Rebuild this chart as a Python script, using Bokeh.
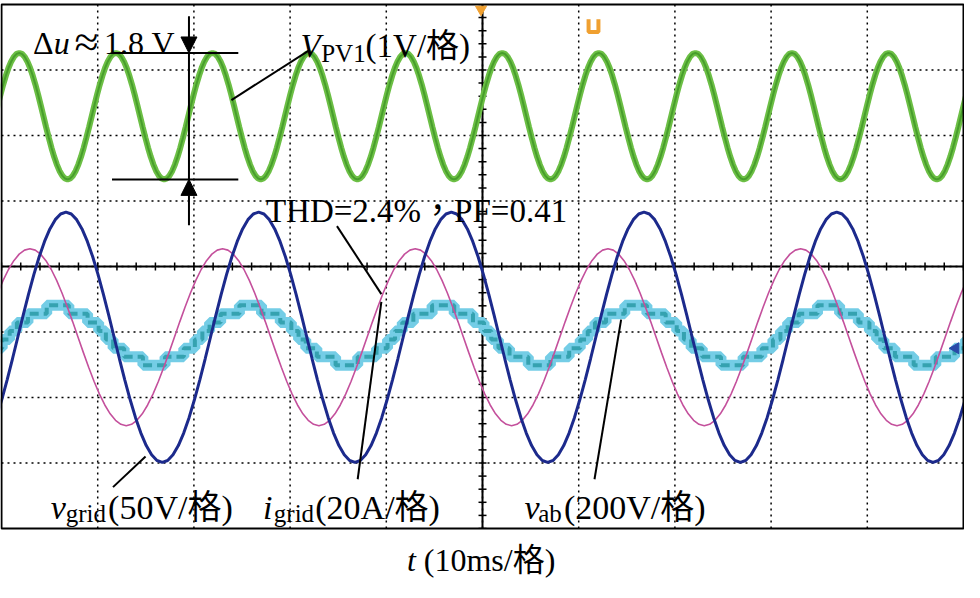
import math
from bokeh.plotting import figure
from bokeh.models import Label, Arrow, NormalHead
from bokeh.embed import file_html
from bokeh.resources import INLINE

# ---------------- data read from the oscilloscope screen ----------------
# time in ms (10 ms / division, 10 divisions), amplitude in divisions (8 divisions)
# one period of the (sinusoidal) trace shape, sampled every 10 degrees from the rising zero crossing
SHAPE = [0.000, 0.174, 0.342, 0.500, 0.643, 0.766, 0.866, 0.940, 0.985,
         1.000, 0.985, 0.940, 0.866, 0.766, 0.643, 0.500, 0.342, 0.174,
         0.000, -0.174, -0.342, -0.500, -0.643, -0.766, -0.866, -0.940, -0.985,
         -1.000, -0.985, -0.940, -0.866, -0.766, -0.643, -0.500, -0.342, -0.174]

# V_PV1 ripple (green): first peak time, period, amplitude, centre level
vpv_peak_ms = 1.85
vpv_period_ms = 10.04
vpv_amp_div = 0.965
vpv_center_div = 2.295

# v_grid (dark blue)
vgrid_peak_ms = 6.70
vgrid_period_ms = 20.03
vgrid_amp_div = 1.91
vgrid_center_div = -1.08

# i_grid (magenta)
igrid_peak_ms = 2.95
igrid_period_ms = 20.03
igrid_amp_div = 1.35
igrid_center_div = -1.08

# v_ab multilevel staircase (cyan): levels (in steps) and the start time of each level,
# measured from the rising zero crossing, for one 20 ms period
vab_levels = [0.5, 1.5, 2.5, 3.5, 2.5, 1.5, 0.5, -0.5, -1.5, -2.5, -3.5, -2.5, -1.5, -0.5]
vab_starts_ms = [0.0, 0.75, 1.9, 3.85, 6.15, 8.1, 9.25, 10.0, 10.75, 11.9, 13.85, 16.15, 18.1, 19.25]
vab_zero_ms = 0.85
vab_period_ms = 20.03
vab_step_div = 0.131
vab_center_div = -1.05

# graticule: 10 x 8 divisions, 5 minor ticks per division on the centre axes
N_XDIV, N_YDIV, N_MINOR = 10, 8, 5
MS_PER_DIV = 10

# ---------------- helpers ----------------
def tiled(peak, period, amp, center):
    t0 = peak - period / 4.0
    k0 = int(math.floor((0 - t0) / period))
    k1 = int(math.ceil((100 - t0) / period)) + 1
    xs, ys = [], []
    n = len(SHAPE)
    for k in range(k0, k1):
        for i, s in enumerate(SHAPE):
            xs.append(t0 + (k + i / n) * period)
            ys.append(center + amp * s)
    return xs, ys

def staircase():
    xs, ys = [], []
    for k in range(-1, 6):
        for st, lv in zip(vab_starts_ms, vab_levels):
            xs.append(vab_zero_ms + k * vab_period_ms + st)
            ys.append(vab_center_div + lv * vab_step_div)
    return xs, ys

# reference-picture pixel -> data coordinates (for annotation placement)
def X(px):
    return (px - 2) / 9.75

def Y(py):
    return (274 - py) / 66.5

FONT = "Liberation Serif, Noto Sans CJK TC"

# ---------------- figure (the frame covers the whole canvas; the scope screen is drawn inside) --------
XMAX = N_XDIV * MS_PER_DIV
YH = N_YDIV / 2
W, H = 964, 582
PX_PER_DIV = 65.5
TOP_PX = 4.0                      # canvas row of the screen's top edge
y_top = YH + TOP_PX / PX_PER_DIV
y_bot = y_top - H / PX_PER_DIV
p = figure(width=W, height=H, x_range=(-1 / 9.62, XMAX + 1 / 9.62), y_range=(y_bot, y_top),
           x_axis_type=None, y_axis_type=None, toolbar_location=None,
           output_backend="svg", min_border=0)
p.background_fill_color = "white"
p.border_fill_color = "white"
p.outline_line_color = None
p.grid.visible = False

# graticule: dotted division lines
vx_lines = [i * MS_PER_DIV for i in range(1, N_XDIV)]
hy_lines = [-YH + i for i in range(1, N_YDIV)]
p.segment(x0=vx_lines, y0=[-YH] * len(vx_lines), x1=vx_lines, y1=[YH] * len(vx_lines),
          line_color="black", line_dash="2 4", line_width=1.5)
p.segment(x0=[0] * len(hy_lines), y0=hy_lines, x1=[XMAX] * len(hy_lines), y1=hy_lines,
          line_color="black", line_dash="2 4", line_width=1.5)
# centre axes with minor ticks
p.segment(x0=[0, XMAX / 2], y0=[0, -YH], x1=[XMAX, XMAX / 2], y1=[0, YH],
          line_color="black", line_width=2)
xt = [i * MS_PER_DIV / N_MINOR for i in range(N_XDIV * N_MINOR + 1)]
yt = [-YH + i / N_MINOR for i in range(N_YDIV * N_MINOR + 1)]
tx = 4 / PX_PER_DIV   # tick half-length in y data units
ty = 4 / 9.62         # tick half-length in x data units
p.segment(x0=xt, y0=[-tx] * len(xt), x1=xt, y1=[tx] * len(xt), line_color="black", line_width=1.5)
p.segment(x0=[XMAX / 2 - ty] * len(yt), y0=yt, x1=[XMAX / 2 + ty] * len(yt), y1=yt,
          line_color="black", line_width=1.5)

# traces
gx, gy = tiled(vpv_peak_ms, vpv_period_ms, vpv_amp_div, vpv_center_div)
p.line(gx, gy, line_color="#6cbf45", line_width=6)
p.line(gx, gy, line_color="#3f9626", line_width=2, line_alpha=0.8)

sx, sy = staircase()
p.step(sx, sy, mode="after", line_color="#74cde6", line_width=11)
p.step(sx, sy, mode="after", line_color="#2a9aa6", line_width=4, line_dash="9 5", line_alpha=0.85)

ix, iy = tiled(igrid_peak_ms, igrid_period_ms, igrid_amp_div, igrid_center_div)
p.line(ix, iy, line_color="#c4509c", line_width=1.6)

vx, vy = tiled(vgrid_peak_ms, vgrid_period_ms, vgrid_amp_div, vgrid_center_div)
p.line(vx, vy, line_color="#1c2a8c", line_width=3)

# blank the margins outside the screen, then draw the screen border
p.quad(left=[-5, XMAX, -5, -5], right=[0, XMAX + 5, XMAX + 5, XMAX + 5],
       bottom=[-20, -20, -20, YH], top=[20, 20, -YH, 20],
       fill_color="white", line_color=None)
p.quad(left=[0], right=[XMAX], bottom=[-YH], top=[YH], fill_color=None,
       line_color="black", line_width=2)

# Δu marker lines and arrows
pk = vpv_center_div + vpv_amp_div
tr = vpv_center_div - vpv_amp_div
p.segment(x0=[X(114), X(114)], y0=[pk, tr], x1=[X(242), X(242)], y1=[pk, tr],
          line_color="black", line_width=2)
p.segment(x0=[X(192)], y0=[pk], x1=[X(192)], y1=[tr], line_color="black", line_width=2)
for ys, ye in ((Y(20), pk), (Y(232), tr)):
    p.add_layout(Arrow(end=NormalHead(size=16, fill_color="black", line_color="black"),
                       x_start=X(192), y_start=ys, x_end=X(192), y_end=ye,
                       line_color="black", line_width=2))

# leader lines
leaders = [((313, 55), (235, 105)), ((342, 233), (387, 302)), ((115, 498), (148, 467)),
           ((363, 490), (387, 310)), ((603, 490), (630, 328))]
p.segment(x0=[X(a[0]) for a, b in leaders], y0=[Y(a[1]) for a, b in leaders],
          x1=[X(b[0]) for a, b in leaders], y1=[Y(b[1]) for a, b in leaders],
          line_color="black", line_width=2)

# oscilloscope markers
p.scatter([X(488)], [Y(13)], marker="inverted_triangle", size=11, color="#f0a030")
p.multi_line([[X(597), X(597), X(607), X(607)]], [[Y(23), Y(36), Y(36), Y(23)]],
             line_color="#f0a030", line_width=4)
p.scatter([X(969)], [Y(357)], marker="triangle", angle=math.pi / 2, size=11, color="#2a4aa8")

# texts inside the screen
pieces = [
    ("Δ", 34, 47, 32, "normal"),
    ("u", 55, 47, 32, "italic"),
    ("≈", 76, 47, 44, "normal"),
    ("1.8 V", 106, 47, 32, "normal"),
    ("V", 305, 50, 33, "italic"),
    ("PV1", 326, 58, 25, "normal"),
    ("(1V/格)", 371, 50, 33, "normal"),
    ("THD=2.4%，PF=0.41", 270, 218, 33, "normal"),
    ("v", 52, 519, 34, "italic"),
    ("grid", 67, 525, 25, "normal"),
    ("(50V/格)", 110, 519, 34, "normal"),
    ("i", 267, 519, 34, "italic"),
    ("grid", 278, 525, 25, "normal"),
    ("(20A/格)", 320, 519, 34, "normal"),
    ("v", 532, 519, 34, "italic"),
    ("ab", 546, 525, 25, "normal"),
    ("(200V/格)", 572, 519, 34, "normal"),
]
for txt, px, py, size, style in pieces:
    p.add_layout(Label(x=X(px), y=Y(py), text=txt, text_font=FONT,
                       text_font_size=f"{size}px", text_font_style=style,
                       text_color="black", text_baseline="alphabetic", text_align="left"))

# x-axis caption under the screen (baseline 31 px below the screen's bottom edge)
cap_y = -YH - 31 / PX_PER_DIV
for txt, px, style in (("t", 413, "italic"), ("(10ms/格)", 430, "normal")):
    p.add_layout(Label(x=X(px), y=cap_y, text=txt, text_font=FONT,
                       text_font_size="32px", text_font_style=style,
                       text_color="black", text_baseline="alphabetic", text_align="left"))

open("out.html", "w").write(file_html(p, INLINE))
